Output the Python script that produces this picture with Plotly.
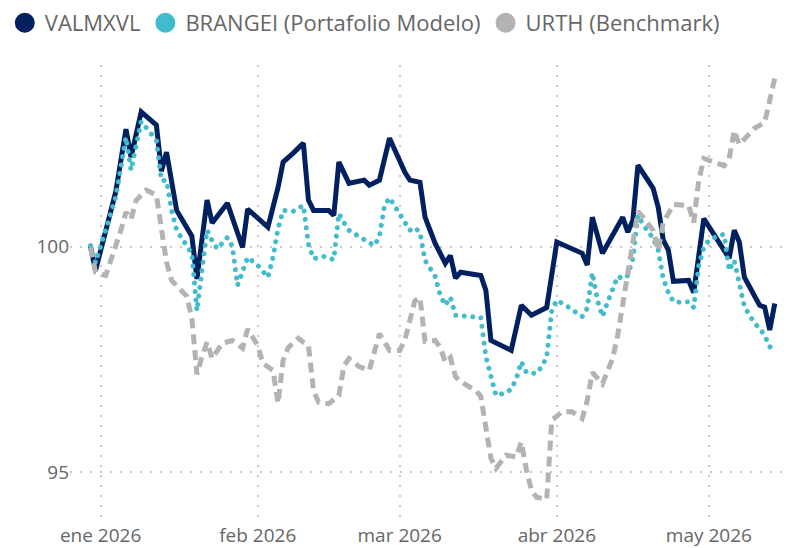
import plotly.graph_objects as go

# ---------------- data ----------------
valmxvl_dates = [
    "2025-12-30", "2025-12-31", "2026-01-04", "2026-01-06", "2026-01-07", "2026-01-09",
    "2026-01-12", "2026-01-13", "2026-01-14", "2026-01-16", "2026-01-19", "2026-01-20",
    "2026-01-22", "2026-01-23", "2026-01-26", "2026-01-27", "2026-01-29", "2026-01-30",
    "2026-02-03", "2026-02-05", "2026-02-06", "2026-02-08", "2026-02-10", "2026-02-11",
    "2026-02-12", "2026-02-15", "2026-02-16", "2026-02-17", "2026-02-19", "2026-02-22",
    "2026-02-23", "2026-02-25", "2026-02-27", "2026-03-02", "2026-03-03", "2026-03-05",
    "2026-03-06", "2026-03-08", "2026-03-10", "2026-03-11", "2026-03-12", "2026-03-13",
    "2026-03-17", "2026-03-18", "2026-03-19", "2026-03-23", "2026-03-25", "2026-03-27",
    "2026-03-30", "2026-04-01", "2026-04-06", "2026-04-07", "2026-04-08", "2026-04-10",
    "2026-04-14", "2026-04-15", "2026-04-16", "2026-04-17", "2026-04-20", "2026-04-21",
    "2026-04-22", "2026-04-23", "2026-04-24", "2026-04-27", "2026-04-28", "2026-04-30",
    "2026-05-05", "2026-05-06", "2026-05-07", "2026-05-08", "2026-05-11", "2026-05-12",
    "2026-05-13", "2026-05-14",
]
valmxvl_values = [
    100.00, 99.47, 101.22, 102.60, 101.98, 102.98,
    102.69, 101.67, 102.09, 100.80, 100.23, 99.28,
    101.03, 100.52, 100.96, 100.65, 99.98, 100.83,
    100.43, 101.31, 101.87, 102.07, 102.29, 101.03,
    100.80, 100.80, 100.69, 101.87, 101.40, 101.47,
    101.36, 101.47, 102.40, 101.65, 101.47, 101.42,
    100.65, 100.07, 99.63, 99.80, 99.30, 99.43,
    99.36, 99.03, 97.92, 97.70, 98.70, 98.48,
    98.65, 100.10, 99.85, 99.59, 100.65, 99.85,
    100.65, 100.32, 100.58, 101.80, 101.29, 100.87,
    100.14, 99.92, 99.23, 99.25, 98.98, 100.62,
    99.74, 100.36, 100.10, 99.32, 98.70, 98.66,
    98.15, 98.74,
]

brangei_dates = [
    "2025-12-30", "2025-12-31", "2026-01-04", "2026-01-06", "2026-01-07", "2026-01-09",
    "2026-01-12", "2026-01-13", "2026-01-14", "2026-01-15", "2026-01-16", "2026-01-19",
    "2026-01-20", "2026-01-22", "2026-01-23", "2026-01-24", "2026-01-26", "2026-01-27",
    "2026-01-28", "2026-01-29", "2026-01-30", "2026-02-01", "2026-02-03", "2026-02-04",
    "2026-02-05", "2026-02-06", "2026-02-08", "2026-02-10", "2026-02-11", "2026-02-12",
    "2026-02-14", "2026-02-16", "2026-02-17", "2026-02-18", "2026-02-19", "2026-02-21",
    "2026-02-23", "2026-02-24", "2026-02-25", "2026-02-26", "2026-02-27", "2026-02-28",
    "2026-03-01", "2026-03-02", "2026-03-03", "2026-03-04", "2026-03-05", "2026-03-06",
    "2026-03-07", "2026-03-08", "2026-03-09", "2026-03-10", "2026-03-11", "2026-03-12",
    "2026-03-14", "2026-03-17", "2026-03-18", "2026-03-19", "2026-03-20", "2026-03-22",
    "2026-03-23", "2026-03-24", "2026-03-25", "2026-03-26", "2026-03-28", "2026-03-29",
    "2026-03-30", "2026-03-31", "2026-04-01", "2026-04-03", "2026-04-05", "2026-04-06",
    "2026-04-07", "2026-04-08", "2026-04-09", "2026-04-10", "2026-04-11", "2026-04-13",
    "2026-04-14", "2026-04-15", "2026-04-16", "2026-04-17", "2026-04-18", "2026-04-20",
    "2026-04-21", "2026-04-22", "2026-04-23", "2026-04-24", "2026-04-26", "2026-04-27",
    "2026-04-28", "2026-04-29", "2026-04-30", "2026-05-01", "2026-05-03", "2026-05-04",
    "2026-05-05", "2026-05-06", "2026-05-07", "2026-05-08", "2026-05-10", "2026-05-11",
    "2026-05-12", "2026-05-13", "2026-05-14",
]
brangei_values = [
    100.02, 99.64, 101.10, 102.42, 101.69, 102.77,
    102.35, 101.46, 101.46, 100.80, 100.36, 99.84,
    98.58, 100.36, 100.13, 99.95, 100.20, 100.00,
    99.14, 99.47, 99.76, 99.58, 99.32, 99.76,
    100.40, 100.80, 100.78, 100.91, 100.05, 99.73,
    99.78, 99.71, 100.73, 100.53, 100.36, 100.22,
    100.09, 100.02, 100.22, 100.90, 101.08, 100.90,
    100.69, 100.53, 100.36, 100.42, 100.31, 99.69,
    99.51, 99.34, 98.92, 98.70, 98.88, 98.48,
    98.46, 98.43, 97.56, 97.07, 96.70, 96.77,
    96.84, 97.07, 97.45, 97.21, 97.19, 97.34,
    97.55, 98.59, 98.81, 98.68, 98.52, 98.45,
    98.63, 99.42, 98.81, 98.45, 98.76, 99.34,
    99.29, 99.36, 99.73, 100.69, 100.49, 100.18,
    99.92, 99.29, 98.98, 98.78, 98.76, 98.78,
    98.65, 99.58, 99.98, 100.14, 100.25, 100.27,
    99.47, 99.69, 99.18, 98.67, 98.30, 98.19,
    98.03, 97.78, 97.74,
]

urth_dates = [
    "2025-12-30", "2025-12-31", "2026-01-02", "2026-01-04", "2026-01-05", "2026-01-06",
    "2026-01-07", "2026-01-08", "2026-01-10", "2026-01-12", "2026-01-13", "2026-01-14",
    "2026-01-15", "2026-01-17", "2026-01-18", "2026-01-19", "2026-01-20", "2026-01-21",
    "2026-01-22", "2026-01-23", "2026-01-25", "2026-01-27", "2026-01-29", "2026-01-30",
    "2026-02-01", "2026-02-02", "2026-02-04", "2026-02-05", "2026-02-06", "2026-02-07",
    "2026-02-09", "2026-02-10", "2026-02-11", "2026-02-12", "2026-02-13", "2026-02-15",
    "2026-02-17", "2026-02-18", "2026-02-19", "2026-02-21", "2026-02-23", "2026-02-25",
    "2026-02-27", "2026-03-01", "2026-03-02", "2026-03-04", "2026-03-05", "2026-03-06",
    "2026-03-08", "2026-03-09", "2026-03-10", "2026-03-11", "2026-03-12", "2026-03-13",
    "2026-03-16", "2026-03-17", "2026-03-18", "2026-03-19", "2026-03-20", "2026-03-22",
    "2026-03-24", "2026-03-25", "2026-03-26", "2026-03-27", "2026-03-28", "2026-03-30",
    "2026-03-31", "2026-04-02", "2026-04-04", "2026-04-06", "2026-04-07", "2026-04-08",
    "2026-04-10", "2026-04-12", "2026-04-13", "2026-04-14", "2026-04-15", "2026-04-16",
    "2026-04-17", "2026-04-18", "2026-04-20", "2026-04-21", "2026-04-22", "2026-04-24",
    "2026-04-27", "2026-04-28", "2026-04-29", "2026-04-30", "2026-05-02", "2026-05-04",
    "2026-05-05", "2026-05-06", "2026-05-07", "2026-05-08", "2026-05-10", "2026-05-12",
    "2026-05-13", "2026-05-14",
]
urth_values = [
    99.98, 99.43, 99.36, 99.98, 100.36, 100.76,
    100.60, 101.02, 101.25, 101.14, 100.47, 99.65,
    99.25, 99.03, 98.90, 98.41, 97.17, 97.57,
    97.88, 97.52, 97.86, 97.92, 97.75, 98.17,
    97.81, 97.41, 97.26, 96.53, 97.48, 97.76,
    97.97, 97.88, 97.81, 96.81, 96.55, 96.52,
    96.70, 97.36, 97.52, 97.34, 97.26, 98.07,
    97.70, 97.70, 97.92, 98.80, 98.87, 97.90,
    97.92, 97.77, 97.44, 97.54, 97.12, 97.01,
    96.81, 96.68, 96.04, 95.31, 95.09, 95.38,
    95.34, 95.67, 95.05, 94.60, 94.45, 94.40,
    96.15, 96.34, 96.34, 96.19, 96.59, 97.21,
    96.96, 97.52, 98.03, 98.74, 99.47, 100.20,
    100.78, 100.65, 100.36, 99.91, 100.53, 100.93,
    100.91, 100.53, 101.46, 101.95, 101.88, 101.79,
    101.95, 102.57, 102.26, 102.39, 102.62, 102.75,
    103.24, 103.73,
]

month_ticks = ["2026-01-01", "2026-02-01", "2026-03-01", "2026-04-01", "2026-05-01"]
month_labels = ["ene 2026", "feb 2026", "mar 2026", "abr 2026", "may 2026"]
y_ticks = [95, 100]
y_labels = ["95", "100"]

series_names = ["VALMXVL", "BRANGEI (Portafolio Modelo)", "URTH (Benchmark)"]
series_colors = ["#002060", "#40BCCC", "#B3B3B3"]

# ---------------- figure ----------------
FONT = "Segoe UI, Open Sans, sans-serif"
fig = go.Figure()

fig.add_trace(go.Scatter(x=valmxvl_dates, y=valmxvl_values, mode="lines", name=series_names[0],
                         line=dict(color=series_colors[0], width=5), showlegend=False,
                         legendgroup="a", hoverinfo="skip"))
fig.add_trace(go.Scatter(x=brangei_dates, y=brangei_values, mode="lines", name=series_names[1],
                         line=dict(color=series_colors[1], width=5, dash="5px,3.5px"), showlegend=False,
                         legendgroup="b", hoverinfo="skip"))
fig.add_trace(go.Scatter(x=urth_dates, y=urth_values, mode="lines", name=series_names[2],
                         line=dict(color=series_colors[2], width=5, dash="10px,6px"), showlegend=False,
                         legendgroup="c", hoverinfo="skip"))

for name, color, grp in zip(series_names, series_colors, ["a", "b", "c"]):
    fig.add_trace(go.Scatter(x=[None], y=[None], mode="markers", name=name, legendgroup=grp,
                             marker=dict(size=16, color=color, line=dict(color=color, width=4))))

fig.update_layout(
    width=797, height=548,
    margin=dict(l=70, r=7, t=65, b=26, autoexpand=False),
    paper_bgcolor="white", plot_bgcolor="white",
    font=dict(family=FONT, color="#666666", size=19),
    showlegend=True,
    legend=dict(orientation="h", x=0.006, y=1.138, xref="container", yref="paper",
                xanchor="left", yanchor="top", font=dict(size=22, color="#666666"),
                itemwidth=30, tracegroupgap=0, bgcolor="rgba(0,0,0,0)"),
    xaxis=dict(range=["2025-12-25 23:00", "2026-05-17 00:00"], type="date",
               tickvals=month_ticks, ticktext=month_labels,
               showgrid=True, gridcolor="#C8C8C8", gridwidth=2, griddash="2px,8px",
               zeroline=False, showline=False, ticks="", tickfont=dict(size=19, color="#666666")),
    yaxis=dict(range=[93.9, 104.02], tickvals=y_ticks, ticktext=y_labels,
               showgrid=True, gridcolor="#C8C8C8", gridwidth=2, griddash="2px,8px",
               zeroline=False, showline=False, ticks="", tickfont=dict(size=19, color="#666666")),
)

# page margin reset + round dots for the BRANGEI dotted line (cosmetic only)
post = """
document.body.style.margin = '0';
var gd = document.getElementById('{plot_id}');
var tr = gd.querySelectorAll('.scatterlayer .trace');
if (tr.length > 1) {
  var p = tr[1].querySelector('path.js-line');
  if (p) { p.style.strokeLinecap = 'round'; p.style.strokeDasharray = '0.01px,8.5px'; }
}
"""

fig.write_html("out.html", post_script=post, config={"displayModeBar": False})
